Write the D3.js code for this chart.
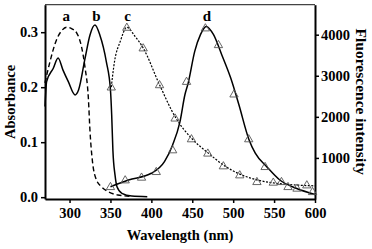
<html>
<head>
<meta charset="UTF-8"/>
<script src="https://d3js.org/d3.v7.min.js"></script>
<style>
body{margin:0;background:#fff;}
text{font-family:"Liberation Serif","Times New Roman",serif;font-weight:bold;}
</style>
</head>
<body>
<script>
// absorbance curves (wavelength nm, absorbance)
const wlA  = [270,276,284,290,296.5,303,309,315,319,323,325,328,333,339,347,359,370,376];
const absA = [0.208,0.246,0.286,0.302,0.309,0.306,0.298,0.271,0.235,0.180,0.120,0.065,0.031,0.019,0.010,0.004,0.002,0.001];

const wlB  = [270,272,280,286,292,298.5,306.7,311,319,325,331,337,345,350,351.5,353,355.6,358,364,376,395];
const absB = [0.165,0.21,0.234,0.253,0.231,0.21,0.186,0.195,0.253,0.295,0.313,0.295,0.246,0.195,0.150,0.085,0.040,0.019,0.007,0.002,0.001];

// fluorescence fitted lines (wavelength nm, intensity)
const wlCline  = [351,355,362,370,380,390,410,430,450,470,490,510,530,550,570,600];
const valCline = [2724,3349,3837,4180,3960,3676,2780,1968,1460,1110,800,590,460,390,350,320];

const wlDline  = [350,372,400,416,426,435,441,445,453,460,467,476,486,497,507,519,527,541,557,577,600];
const valDline = [300,463,627,910,1317,1885,2537,2822,3593,4000,4202,4000,3512,2944,2293,1463,1115,788,463,261,110];

// fluorescence markers
const wlCpts  = [351,370,390,410,429,449,469,488,508,529,549,567,590];
const valCpts = [2724,4178,3676,2780,1968,1463,1115,805,585,422,407,300,341];

const wlDpts  = [350,368,388,406,426,443,466,482,501,519,539,559,578,597];
const valDpts = [300,463,529,666,1195,2861,4163,3756,2554,1463,788,422,261,178];

const xTicks = [300,350,400,450,500,550,600];
const yTicksL = [0,0.1,0.2,0.3];
const yTicksR = [1000,2000,3000,4000];

const curveLabels = ["a","b","c","d"];
const labelWl = [296,333,371,468];

var width = 372, height = 249;
var mLeft = 45, mRight = 315, mTop = 4.7, mBottom = 199;

var svg = d3.select("body").append("svg")
	.attr("width",width).attr("height",height);

var x = d3.scaleLinear().domain([270,600]).range([mLeft,mRight]);
var yL = d3.scaleLinear().domain([-0.0033,0.35]).range([mBottom,mTop]);
var yR = d3.scaleLinear().domain([0,4730]).range([mBottom,mTop]);

// top border
svg.append("line")
	.attr("x1",mLeft).attr("x2",mRight).attr("y1",mTop).attr("y2",mTop)
	.attr("stroke","#444").attr("stroke-width",1.3);

var gx = svg.append("g").attr("transform","translate(0,"+mBottom+")")
	.call(d3.axisBottom(x).tickValues(xTicks).tickSize(4).tickSizeOuter(0).tickPadding(5));
var gl = svg.append("g").attr("transform","translate("+mLeft+",0)")
	.call(d3.axisLeft(yL).tickValues(yTicksL).tickFormat(d3.format(".1f")).tickSize(4).tickSizeOuter(0).tickPadding(3));
var gr = svg.append("g").attr("transform","translate("+mRight+",0)")
	.call(d3.axisRight(yR).tickValues(yTicksR).tickFormat(d3.format("d")).tickSize(4).tickSizeOuter(0).tickPadding(2));

[gx,gl,gr].forEach(g => {
	g.select(".domain").attr("stroke","#000").attr("stroke-width",2);
	g.selectAll(".tick line").attr("stroke","#000").attr("stroke-width",1.5);
	g.selectAll("text").attr("font-size",14.5).attr("fill","#000")
		.attr("font-family","Liberation Serif").attr("font-weight","bold");
});

// curves
var lineL = d3.line().x(d => x(d[0])).y(d => yL(d[1])).curve(d3.curveMonotoneX);
var lineR = d3.line().x(d => x(d[0])).y(d => yR(d[1])).curve(d3.curveMonotoneX);

svg.append("path").attr("d",lineL(d3.zip(wlA,absA)))
	.attr("fill","none").attr("stroke","#000").attr("stroke-width",1.4).attr("stroke-dasharray","5,3");
svg.append("path").attr("d",lineL(d3.zip(wlB,absB)))
	.attr("fill","none").attr("stroke","#000").attr("stroke-width",1.5);
svg.append("path").attr("d",lineR(d3.zip(wlCline,valCline)))
	.attr("fill","none").attr("stroke","#000").attr("stroke-width",1.2).attr("stroke-dasharray","2,1.5");
svg.append("path").attr("d",lineR(d3.zip(wlDline,valDline)))
	.attr("fill","none").attr("stroke","#000").attr("stroke-width",1.5);

// triangle markers
var tri = d3.symbol().type(d3.symbolTriangle).size(30);
svg.selectAll("path.tri")
	.data(d3.zip(wlCpts,valCpts).concat(d3.zip(wlDpts,valDpts)))
	.enter().append("path")
	.attr("class","tri")
	.attr("d",tri)
	.attr("transform",d => "translate("+x(d[0])+","+(yR(d[1])+0.5)+")")
	.attr("fill","none").attr("stroke","#555").attr("stroke-width",0.9);

// curve letters
svg.selectAll("text.lab")
	.data(curveLabels).enter().append("text")
	.attr("class","lab")
	.attr("x",(d,i) => x(labelWl[i]))
	.attr("y",21)
	.attr("text-anchor","middle")
	.attr("font-size",15)
	.text(d => d);

// axis titles
svg.append("text")
	.attr("x",(mLeft+mRight)/2).attr("y",240)
	.attr("text-anchor","middle").attr("font-size",14.5)
	.text("Wavelength (nm)");
svg.append("text")
	.attr("transform","translate(15,"+((mTop+mBottom)/2)+") rotate(-90)")
	.attr("text-anchor","middle").attr("font-size",14.5)
	.text("Absorbance");
svg.append("text")
	.attr("transform","translate(356,"+((mTop+mBottom)/2)+") rotate(90)")
	.attr("text-anchor","middle").attr("font-size",15.5)
	.text("Fluorescence intensity");
</script>
</body>
</html>
